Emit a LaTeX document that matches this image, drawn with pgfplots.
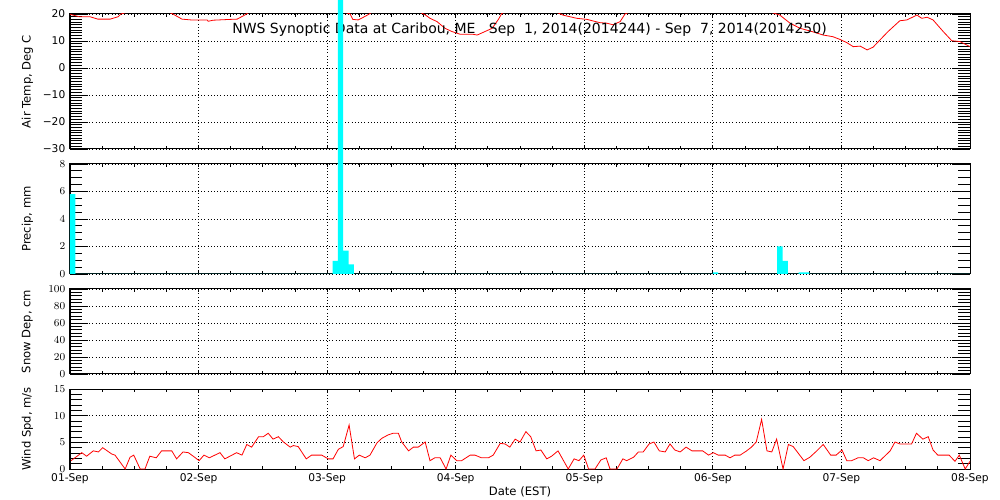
\documentclass[border=0pt]{standalone}
\usepackage{fontspec}
\setmainfont{DejaVu Sans}
\usepackage{pgfplots}
\pgfplotsset{compat=1.18}
\definecolor{aqua}{RGB}{0,255,255}
\definecolor{pured}{RGB}{255,0,0}

\pgfplotsset{
  panel/.style={
    scale only axis, width=675pt, anchor=south west,
    xmin=0, xmax=168,
    xtick={0,24,...,168}, minor x tick num=3,
    xticklabels={},
    tick align=inside, xtick pos=both, ytick pos=both,
    grid=major, major grid style={black, dotted, line width=0.6pt},
    axis line style={line width=0.75pt},
    major x tick style={black, line width=0.6pt, /pgfplots/major tick length=2.25pt},
    minor x tick style={black, line width=0.6pt, /pgfplots/minor tick length=2.25pt},
    major y tick style={black, line width=0.6pt, /pgfplots/major tick length=13.5pt},
    minor y tick style={black, line width=0.6pt, /pgfplots/minor tick length=9pt},
    tick label style={font=\fontsize{8}{9}\selectfont},
    every axis y label/.style={at={(axis description cs:0,0.5)}, xshift=-32pt,
      rotate=90, anchor=center, font=\fontsize{8.7}{10}\selectfont},
  }
}

\begin{document}
\begin{tikzpicture}
\path[use as bounding box] (0pt,0pt) rectangle (750pt,375pt);

% ---------------- Air temperature ----------------
\begin{axis}[panel, at={(52.5pt,263.25pt)}, height=101.25pt,
  ymin=-30, ymax=20, ytick={-30,-20,...,20},
  yticklabels={−30,−20,−10,0,10,20}, minor y tick num=9,
  ylabel={Air Temp, Deg C}]
\addplot[pured, line width=0.6pt] coordinates {
(0,19.9) (1.7,19.0) (3.7,19.0) (5.2,18.1) (7.5,18.1) (9.0,19.0) (9.5,20.0)
(12,21.5) (15,22.5) (18,21.2) (19.2,20.0) (20.9,18.1) (22.6,17.8) (25.6,17.8)
(25.8,17.3) (26.7,17.7) (29.9,18.0) (31.2,18.1) (32.7,19.7) (34,21.5) (38,24)
(42,25) (46,23.5) (50,21.5) (52.3,20.0) (52.8,18.0) (53.8,17.8) (54.5,18.5)
(55.6,19.7) (57,21.5) (61,23) (64,22) (66.3,19.7) (67.2,18.4) (68.5,17.2)
(70.0,14.7) (71.3,13.5) (72.8,12.5) (75.2,12.5) (76.0,12.2) (76.9,13.0)
(78.8,14.7) (80.0,18.1) (80.6,20.2) (83,22) (87,23) (90,21.5) (92.0,19.6)
(94.6,18.4) (96.5,18.0) (98.9,16.8) (100.2,16.6) (101.4,16.0) (102.7,17.2)
(103.6,20.0) (106,22) (110,24) (114,25.5) (118,24.5) (122,23.5) (126,22.5)
(130,21.2) (132.5,19.6) (134.4,16.6) (136.3,14.7) (138.5,13.5) (140.6,12.2)
(142.4,11.6) (143.7,10.6) (145.0,9.4) (146.2,7.9) (147.5,8.1) (148.8,6.7)
(149.9,7.7) (151.2,10.4) (152.7,13.5) (154.9,17.5) (156.2,17.8) (158.1,19.6)
(159.0,18.4) (160.0,18.8) (161.1,17.8) (163.0,13.5) (164.6,10.1) (166.1,9.8)
(168.0,7.9)
};
\node[font=\fontsize{10.5}{12}\selectfont] at (rel axis cs:0.5106,0.881)
  {NWS Synoptic Data at Caribou, ME\ \ \ Sep\ \ 1, 2014(2014244) - Sep\ \ 7, 2014(2014250)};
\end{axis}

% ---------------- Precipitation ----------------
\begin{axis}[panel, at={(52.5pt,169.5pt)}, height=82.5pt,
  ymin=0, ymax=8, ytick={0,2,...,8}, minor y tick num=3,
  ylabel={Precip, mm}, clip=false]
\addplot[ybar interval, fill=aqua, draw=none] coordinates {
(0,5.8) (1,0) (49,0.95) (50,30) (51,1.7) (52,0.7) (53,0)
(120,0.12) (121,0) (132,2.0) (133,0.95) (134,0) (136,0.12) (138,0) (168,0)
};
\end{axis}

% ---------------- Snow depth ----------------
\begin{axis}[panel, at={(52.5pt,94.5pt)}, height=63.75pt,
  ymin=0, ymax=100, ytick={0,20,...,100}, minor y tick num=4,
  ylabel={Snow Dep, cm}]
\addplot[draw=none] coordinates {(0,-10) (168,-10)};
\end{axis}

% ---------------- Wind speed ----------------
\begin{axis}[panel, at={(52.5pt,23.25pt)}, height=60pt,
  ymin=0, ymax=15, ytick={0,5,10,15}, minor y tick num=4,
  ylabel={Wind Spd, m/s},
  xticklabels={01-Sep,02-Sep,03-Sep,04-Sep,05-Sep,06-Sep,07-Sep,08-Sep},
  xlabel={Date (EST)},
  every axis x label/.style={at={(axis description cs:0.5,0)}, yshift=-17pt,
    anchor=center, font=\fontsize{8.7}{10}\selectfont}]
\addplot[pured, line width=0.6pt] coordinates {
(0.2,1.56) (2.2,3.06) (3.1,2.4) (4.35,3.4) (5.3,3.2) (6.1,4.0) (7.8,2.8)
(8.4,2.6) (10.3,0) (11.2,2.2) (11.9,2.6) (13.1,0) (14.0,0) (14.9,2.4)
(16.1,2.1) (17.1,3.4) (19.0,3.4) (19.9,1.9) (21.1,3.2) (22.1,3.06) (23.0,2.4)
(24.1,1.56) (25.0,2.6) (26.0,2.1) (28.0,3.06) (28.9,1.9) (31.1,3.06) (32.1,2.6)
(33.0,4.6) (33.9,4.1) (35.2,6.06) (36.1,6.06) (37.0,6.7) (37.9,5.6) (38.9,6.06)
(39.8,5.1) (41.1,4.1) (41.7,4.4) (42.6,4.2) (44.1,1.9) (45.1,2.6) (47.0,2.6)
(48.2,1.9) (49.1,1.9) (50.1,3.7) (51.0,4.2) (52.1,8.25) (53.1,1.9) (54.0,2.6)
(55.1,2.1) (56.0,2.6) (57.3,4.9) (58.2,5.75) (59.4,6.4) (60.3,6.7) (61.3,6.7)
(61.9,5.1) (63.2,3.4) (64.1,4.1) (65.0,4.1) (66.3,5.06) (67.2,1.56) (68.1,2.1)
(69.1,2.1) (70.2,0) (71.1,2.6) (72.2,1.56) (73.1,1.56) (74.7,2.6) (75.6,2.6)
(76.8,2.1) (78.1,2.1) (79.0,2.6) (80.3,4.8) (81.2,4.7) (82.1,4.1) (83.1,5.6)
(84.0,5.06) (85.1,7.0) (86.0,6.06) (87.0,3.4) (87.9,3.56) (89.0,1.9) (89.9,2.4)
(91.1,3.4) (93.0,0) (94.1,1.9) (95.0,1.56) (95.9,2.6) (96.8,0) (98.0,0)
(99.1,1.7) (100.1,2.1) (100.8,0) (102.1,0) (103.2,1.9) (103.9,1.56) (105.2,2.2)
(106.1,3.2) (107.0,3.2) (108.1,4.7) (109.0,5.06) (110.0,3.4) (111.1,3.2)
(112.0,4.7) (112.9,3.56) (113.9,3.2) (115.0,4.1) (116.1,3.4) (118.1,3.4)
(119.2,2.6) (120.1,3.06) (121.0,2.6) (122.3,2.6) (123.2,2.1) (124.1,2.6)
(125.1,2.6) (126.3,3.4) (127.2,4.1) (128.1,5.06) (129.1,9.3) (130.1,3.4)
(131.0,3.2) (131.9,5.6) (133.1,0) (134.1,4.6) (135.0,4.2) (137.0,1.56)
(138.1,2.2) (139.4,3.4) (140.6,4.6) (142.0,2.6) (143.0,2.6) (144.1,3.56)
(145.0,1.56) (145.9,1.56) (147.1,2.1) (148.1,2.1) (149.0,1.56) (150.0,2.1)
(151.2,1.56) (153.1,3.4) (154.0,5.06) (154.9,4.7) (157.1,4.7) (158.0,6.7)
(159.2,5.6) (160.2,6.06) (161.1,3.56) (162.0,2.6) (164.1,2.6) (165.2,1.44)
(166.0,2.6) (167.1,0) (168.0,1.44)
};
\end{axis}
\end{tikzpicture}
\end{document}
